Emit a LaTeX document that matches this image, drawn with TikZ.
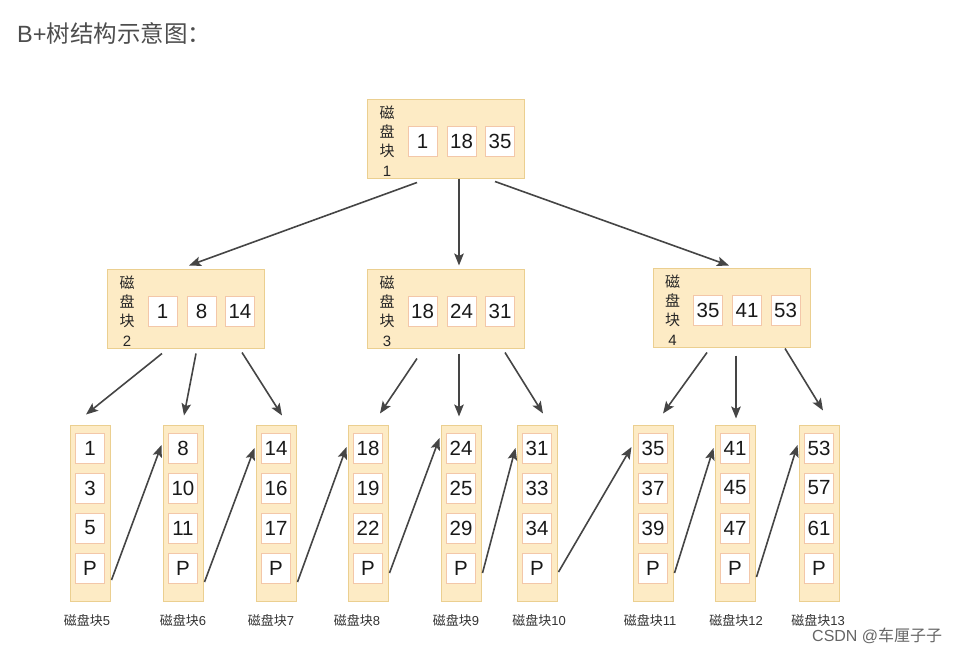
\documentclass[tikz,border=0pt]{standalone}
\usepackage{fontspec}
\setmainfont{Liberation Sans}
\newfontfamily\cjk{Noto Sans CJK SC}
\usetikzlibrary{arrows.meta,calc}
\definecolor{blkfill}{HTML}{FDEBC5}
\definecolor{blkline}{HTML}{EBCF90}
\definecolor{keyline}{HTML}{F3C7A9}
\definecolor{arrowc}{HTML}{454545}
\definecolor{titlec}{HTML}{4D4D4D}
\definecolor{lblc}{HTML}{333333}
\tikzset{
  blk/.style={draw=blkline, fill=blkfill, line width=1pt, minimum width=157pt, minimum height=79pt, inner sep=0pt},
  leafbox/.style={draw=blkline, fill=blkfill, line width=1pt, minimum width=40pt, minimum height=176pt, inner sep=0pt},
  key/.style={draw=keyline, fill=white, line width=0.8pt, minimum width=29pt, minimum height=30pt, inner sep=0pt, text=black!90, font=\fontsize{20.5}{20.5}\selectfont},
  blklbl/.style={align=center, inner sep=0pt, text=black!85, font=\fontsize{15}{19.3}\selectfont},
  leaflbl/.style={inner sep=0pt, text=lblc, font=\fontsize{13}{13}\selectfont},
  arr/.style={draw=arrowc, line width=1.6pt, -{Stealth[length=12pt,width=9.5pt,inset=2.5pt]}},
}
\begin{document}
\begin{tikzpicture}[x=1pt,y=-1pt]
\useasboundingbox[fill=white] (0,0) rectangle (964,648);
% title
\node[anchor=west, inner sep=0pt, text=titlec, font=\fontsize{23.5}{23.5}\selectfont] (title) at (17,33) {B+{\cjk 树结构示意图：}};
% upper blocks
\foreach \n/\cx/\cy/\lab/\ka/\kb/\kc in {root/446/138.5/1/1/18/35, b2/186/308.5/2/1/8/14, b3/446/308.5/3/18/24/31, b4/731.5/307.5/4/35/41/53} {
  \node[blk] (\n) at (\cx,\cy) {};
  \node[blklbl] (\n l) at (\cx-59,\cy+2.5) {{\cjk 磁}\\{\cjk 盘}\\{\cjk 块}\\\lab};
  \node[key] (\n k1) at (\cx-23.5,\cy+3) {\ka};
  \node[key] (\n k2) at (\cx+15.5,\cy+3) {\kb};
  \node[key] (\n k3) at (\cx+54,\cy+3) {\kc};
}
% leaves
\foreach \i/\x/\a/\b/\c/\lx in {5/90/1/3/5/87, 6/183/8/10/11/183, 7/276/14/16/17/271, 8/368/18/19/22/357, 9/461/24/25/29/456, 10/537/31/33/34/539, 11/653/35/37/39/650, 12/735/41/45/47/736, 13/819/53/57/61/818} {
  \node[leafbox] (lf\i) at (\x,513) {};
  \node[key] (k\i a) at (\x,448) {\a};
  \node[key] (k\i b) at (\x,488) {\b};
  \node[key] (k\i c) at (\x,528) {\c};
  \node[key] (k\i d) at (\x,568) {P};
  \node[leaflbl] (lb\i) at (\lx,621) {{\cjk 磁盘块}\i};
}
% root to level 2
\draw[arr] ($(root.south)+(-29,4)$) -- ($(b2.north)+(3,-3)$);
\draw[arr] ($(root.south)+(13,0)$) -- ($(b3.north)+(13,-3)$);
\draw[arr] ($(root.south)+(49,3)$) -- ($(b4.north)+(-2.5,-2)$);
% level 2 to leaves
\draw[arr] ($(b2.south)+(-24,5)$) -- ($(lf5.north)+(-4,-10)$);
\draw[arr] ($(b2.south)+(10,5)$) -- ($(lf6.north)+(1,-9)$);
\draw[arr] ($(b2.south)+(56,4)$) -- ($(lf7.north)+(6,-9)$);
\draw[arr] ($(b3.south)+(-29,10)$) -- ($(lf8.north)+(12,-11)$);
\draw[arr] ($(b3.south)+(13,5)$) -- ($(lf9.north)+(-2,-8)$);
\draw[arr] ($(b3.south)+(59,4)$) -- ($(lf10.north)+(6,-11)$);
\draw[arr] ($(b4.south)+(-24.5,5)$) -- ($(lf11.north)+(10,-11)$);
\draw[arr] ($(b4.south)+(4.5,8)$) -- ($(lf12.north)+(1,-6)$);
\draw[arr] ($(b4.south)+(53.5,1)$) -- ($(lf13.north)+(4,-14)$);
% leaf chain
\foreach \a/\b/\dy/\ey in {5/6/67/-3, 6/7/69/0, 7/8/69/-1, 8/9/60/-10, 9/10/60/0, 10/11/59/-1, 11/12/60/0, 12/13/64/-3} {
  \draw[arr] ($(lf\a.east)+(1,\dy)$) -- ($(lf\b.west |- k\b a)+(-1,\ey)$);
}
% watermark
\node[anchor=west, inner sep=0pt, text=black!60, font=\fontsize{16}{16}\selectfont] (wm) at (812,636) {CSDN @{\cjk 车厘子子}};
\end{tikzpicture}
\end{document}
